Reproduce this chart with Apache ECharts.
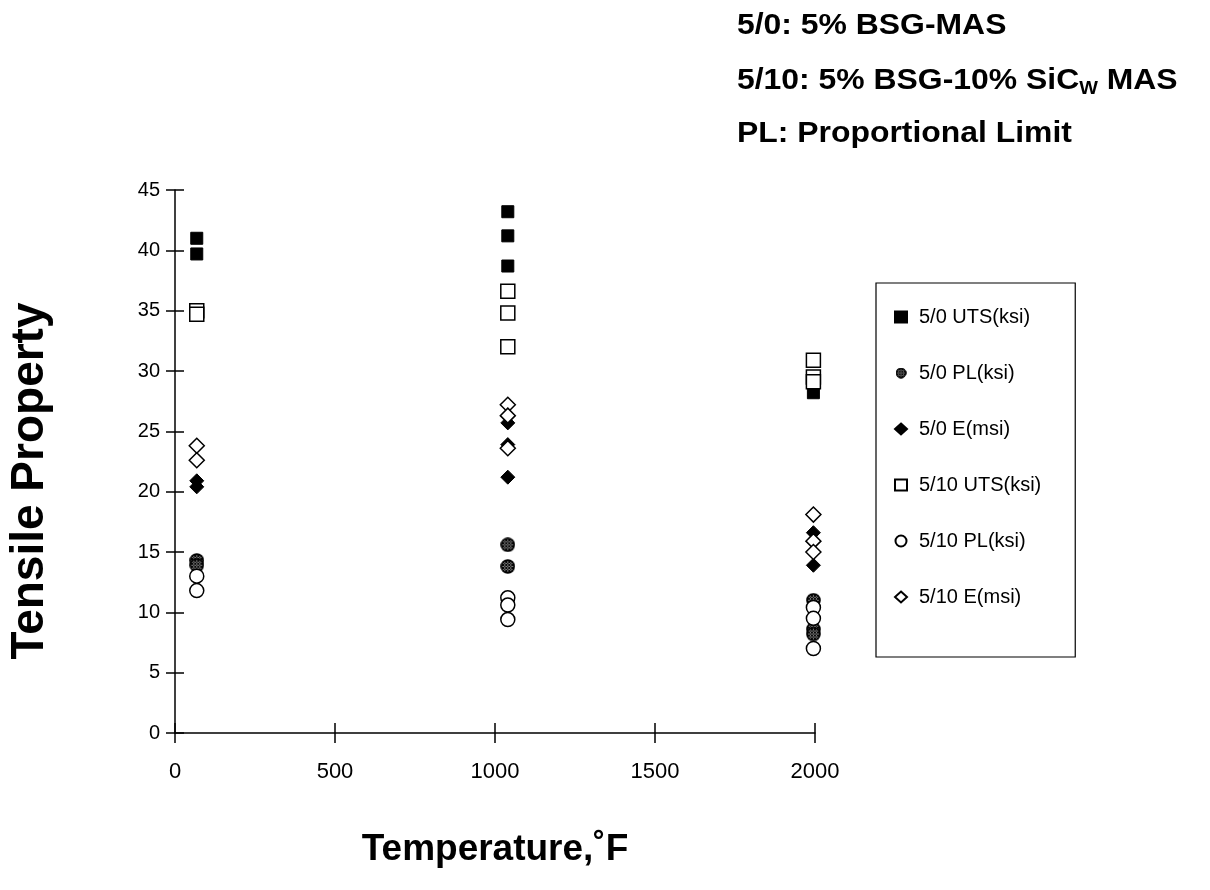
<!DOCTYPE html>
<html>
<head>
<meta charset="utf-8">
<script src="https://cdn.jsdelivr.net/npm/echarts@6/dist/echarts.min.js"></script>
<style>html,body{margin:0;padding:0;background:#fff}#c{width:1210px;height:890px}</style>
</head>
<body>
<div id="c"></div>
<script>
// Data: [temperature °F, value]
var uts50 = [[68,41.0],[68,39.7],[1040,43.2],[1040,41.2],[1040,38.7],[1995,28.2]];
var pl50  = [[68,14.3],[68,13.9],[1040,15.6],[1040,13.8],[1995,11.0],[1995,8.6],[1995,8.2]];
var e50   = [[68,20.9],[68,20.4],[1040,25.7],[1040,23.9],[1040,21.2],[1995,16.6],[1995,13.9]];
var uts510 = [[68,35.0],[68,34.7],[1040,36.6],[1040,34.8],[1040,32.0],[1995,30.9],[1995,29.5],[1995,29.1]];
var pl510  = [[68,13.0],[68,11.8],[1040,11.2],[1040,10.6],[1040,9.4],[1995,10.4],[1995,9.5],[1995,7.0]];
var e510   = [[68,23.8],[68,22.6],[1040,27.2],[1040,26.3],[1040,23.6],[1995,18.1],[1995,15.9],[1995,15.0]];
var seriesNames = ['5/0 UTS(ksi)','5/0 PL(ksi)','5/0 E(msi)','5/10 UTS(ksi)','5/10 PL(ksi)','5/10 E(msi)'];
var xTicks = {min:0, max:2000, interval:500};
var yTicks = {min:0, max:45, interval:5};

var FONT = '"Liberation Sans", Arial, Helvetica, sans-serif';

// cross-hatched circle symbol drawn on a canvas
var S = 15;
var pc = document.createElement('canvas');
pc.width = S; pc.height = S;
var px = pc.getContext('2d');
px.save();
px.beginPath(); px.arc(S/2,S/2,S/2-0.8,0,Math.PI*2); px.closePath(); px.clip();
px.fillStyle = '#ffffff'; px.fillRect(0,0,S,S);
px.strokeStyle = '#000'; px.lineWidth = 1.1;
for (var k = -S; k < 2*S; k += 3) {
  px.beginPath(); px.moveTo(k,0); px.lineTo(k+S,S); px.stroke();
  px.beginPath(); px.moveTo(k+S,0); px.lineTo(k,S); px.stroke();
}
px.restore();
px.beginPath(); px.arc(S/2,S/2,S/2-1,0,Math.PI*2); px.lineWidth = 1.6; px.strokeStyle = '#000'; px.stroke();
var hatchSymbol = 'image://' + pc.toDataURL();

var chart = echarts.init(document.getElementById('c'), null, {renderer:'canvas'});
var axisLineStyle = {color:'#000', width:1.5};
function mkSeries(name, data, symbol, size, fill, border) {
  return {
    name: name, type: 'scatter', data: data, symbol: symbol, symbolSize: size,
    itemStyle: {color: fill, borderColor: '#000', borderWidth: border, opacity: 1},
    emphasis: {disabled: true}, animation: false
  };
}
var titleFont = 'bold 29px ' + FONT;
var option = {
  backgroundColor: '#fff',
  animation: false,
  grid: {left: 175, right: 395, top: 190, bottom: 157, containLabel: false, outerBoundsMode: 'none'},
  xAxis: [{
    type: 'value', min: xTicks.min, max: xTicks.max, interval: xTicks.interval,
    axisLine: {lineStyle: axisLineStyle},
    axisTick: {show: true, length: 10, lineStyle: axisLineStyle},
    axisLabel: {fontFamily: FONT, fontSize: 22, color: '#000', margin: 28, formatter: function(v){ return String(v); }},
    splitLine: {show: false},
    name: 'Temperature,˚F', nameLocation: 'middle', nameGap: 98,
    nameTextStyle: {fontFamily: FONT, fontSize: 37, fontWeight: 'bold', color: '#000'}
  },{
    type: 'value', min: xTicks.min, max: xTicks.max, interval: xTicks.interval, position: 'bottom',
    axisLine: {show: false}, axisLabel: {show: false}, splitLine: {show: false},
    axisTick: {show: true, inside: true, length: 10, lineStyle: axisLineStyle}
  }],
  yAxis: [{
    type: 'value', min: yTicks.min, max: yTicks.max, interval: yTicks.interval,
    axisLine: {lineStyle: axisLineStyle},
    axisTick: {show: true, length: 9, lineStyle: axisLineStyle},
    axisLabel: {fontFamily: FONT, fontSize: 20, color: '#000', margin: 15},
    splitLine: {show: false}
  },{
    type: 'value', min: yTicks.min, max: yTicks.max, interval: yTicks.interval, position: 'left',
    axisLine: {show: false}, axisLabel: {show: false}, splitLine: {show: false},
    axisTick: {show: true, inside: true, length: 9, lineStyle: axisLineStyle}
  }],
  legend: {
    orient: 'vertical', left: 876, top: 283,
    padding: [24, 34, 50, 18], itemGap: 36,
    itemWidth: 12, itemHeight: 11,
    borderColor: '#000', borderWidth: 1.2, backgroundColor: '#fff',
    textStyle: {fontFamily: FONT, fontSize: 20, color: '#000', padding: [0,0,0,7]},
    data: seriesNames.map(function(n){ return {name: n}; })
  },
  graphic: [
    {type:'text', x: 30, y: 481, rotation: Math.PI/2,
     style:{text:'Tensile Property', font:'bold 46px ' + FONT, fill:'#000', align:'center', verticalAlign:'middle'}},
    {type:'text', x: 737, y: 26, scaleX: 1.1, style:{text:'5/0: 5% BSG-MAS', font: titleFont, fill:'#000', verticalAlign:'middle'}},
    {type:'text', x: 737, y: 81, scaleX: 1.1, style:{
      text:'{m|5/10: 5% BSG-10% SiC}{s|W}{m| MAS}', fill:'#000', verticalAlign:'middle',
      rich:{ m:{font: titleFont, lineHeight:34, verticalAlign:'middle'},
             s:{font:'bold 18px ' + FONT, lineHeight:34, verticalAlign:'bottom'} }
    }},
    {type:'text', x: 737, y: 134, scaleX: 1.1, style:{text:'PL: Proportional Limit', font: titleFont, fill:'#000', verticalAlign:'middle'}}
  ],
  series: [
    mkSeries(seriesNames[0], uts50, 'rect', 12, '#000', 1),
    mkSeries(seriesNames[1], pl50, hatchSymbol, S, '#000', 0),
    mkSeries(seriesNames[2], e50, 'diamond', 14, '#000', 1),
    mkSeries(seriesNames[3], uts510, 'rect', 14, '#fff', 1.5),
    mkSeries(seriesNames[4], pl510, 'circle', 14, '#fff', 1.5),
    mkSeries(seriesNames[5], e510, 'diamond', 15, '#fff', 1.5)
  ]
};
chart.setOption(option);
</script>
</body>
</html>
